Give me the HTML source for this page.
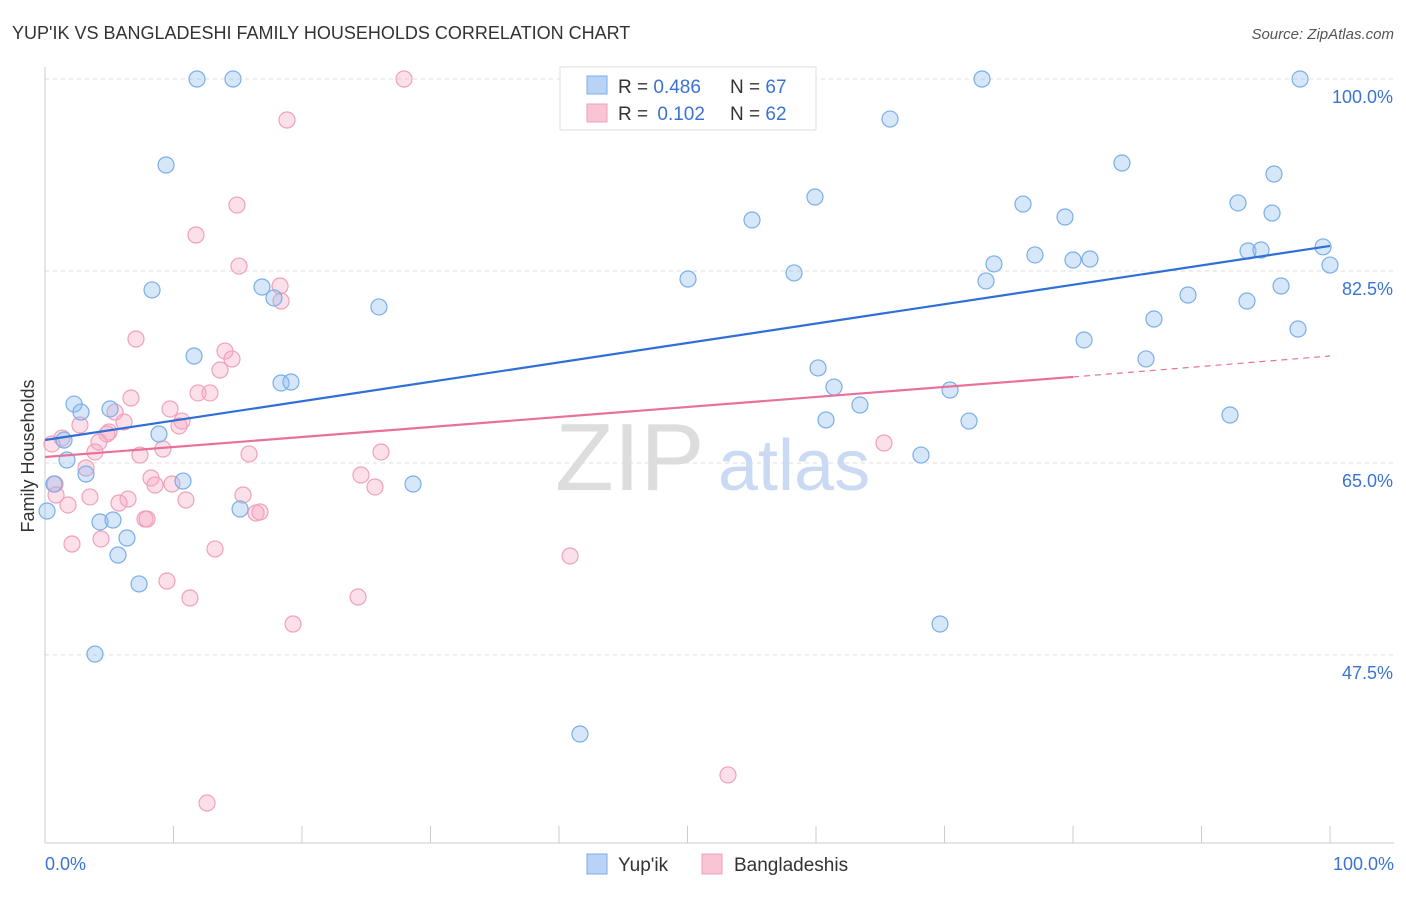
<!DOCTYPE html>
<html><head><meta charset="utf-8"><style>
body{margin:0;background:#fff;font-family:"Liberation Sans",sans-serif}
svg text{font-family:"Liberation Sans",sans-serif}
</style></head><body>
<svg id="chart" width="1406" height="892">
<text x="12" y="39" font-size="18" fill="#333">YUP'IK VS BANGLADESHI FAMILY HOUSEHOLDS CORRELATION CHART</text>
<text x="1394" y="39" font-size="15" fill="#555" text-anchor="end" font-style="italic">Source: ZipAtlas.com</text>
<g id="grid"></g>
<g><text x="555" y="490" font-size="96" fill="#ddd" font-family="Liberation Serif">ZIP</text><text x="718" y="490" font-size="72" fill="#c9daf2">atlas</text></g>
<g id="marks"></g>
<text transform="translate(34,456) rotate(-90)" font-size="18" fill="#333" text-anchor="middle">Family Households</text>
<text x="45" y="870" font-size="18" fill="#3b73d4">0.0%</text>
<text x="1394" y="870" font-size="18" fill="#3b73d4" text-anchor="end">100.0%</text>
<g>
<rect x="560" y="67" width="256" height="63" fill="#fff" stroke="#ddd"/>
<rect x="587" y="76" width="20" height="18" fill="#b8d3f5" stroke="#7aaee8"/>
<rect x="587" y="104" width="20" height="18" fill="#f9c5d5" stroke="#f0a0bb"/>
<text x="618" y="93" font-size="19" fill="#333">R = <tspan fill="#3b73d4">0.486</tspan><tspan x="730">N = </tspan><tspan fill="#3b73d4">67</tspan></text>
<text x="618" y="120" font-size="19" fill="#333">R = <tspan fill="#3b73d4" dx="4">0.102</tspan><tspan x="730">N = </tspan><tspan fill="#3b73d4">62</tspan></text>
</g>
<g>
<rect x="587" y="854" width="20" height="20" fill="#b8d3f5" stroke="#7aaee8"/>
<text x="618" y="871" font-size="19" fill="#333">Yup'ik</text>
<rect x="702" y="854" width="20" height="20" fill="#f9c5d5" stroke="#f0a0bb"/>
<text x="734" y="871" font-size="19" fill="#333">Bangladeshis</text>
</g>
</svg>
<script>
const yTicks=[100,82.5,65,47.5];
const yTickLabels=["100.0%","82.5%","65.0%","47.5%"];
const xTicks=[0,10,20,30,40,50,60,70,80,90,100];
const yupikX=[11.83,14.63,72.92,97.67,65.76,9.42,83.81,95.64,59.92,76.11,92.84,95.49,79.38,55.02,99.46,93.62,94.63,73.85,80,81.32,77.04,100,50.04,58.29,73.23,8.33,16.89,17.82,25.99,88.95,96.19,93.54,86.3,97.51,80.86,85.68,11.6,60.16,18.37,19.14,61.4,70.43,2.26,5.06,2.8,63.42,92.22,60.78,71.91,8.87,1.48,1.71,68.17,3.19,10.74,28.64,0.7,0.16,15.18,4.28,5.29,6.38,5.68,7.32,69.65,3.89,41.63];
const yupikY=[100,100,100,100,96.35,92.16,92.34,91.34,89.24,88.6,88.7,87.78,87.42,87.15,84.69,84.32,84.41,83.14,83.5,83.59,83.96,83.04,81.77,82.32,81.59,80.77,81.04,80.04,79.22,80.31,81.13,79.76,78.12,77.21,76.21,74.48,74.75,73.66,72.29,72.38,71.92,71.65,70.37,69.92,69.64,70.28,69.37,68.92,68.82,67.64,67.09,65.27,65.72,63.99,63.35,63.08,63.08,60.62,60.8,59.62,59.8,58.16,56.61,53.97,50.32,47.58,40.29];
const bangX=[27.94,18.83,14.94,11.75,15.1,18.29,18.37,7.08,14.01,14.55,13.62,11.91,12.84,6.69,9.73,5.45,10.66,10.43,6.15,2.72,4.98,4.82,1.32,0.54,4.2,9.18,3.89,15.88,26.15,7.39,3.19,8.25,24.59,9.88,8.56,25.68,0.78,3.5,15.41,10.97,6.46,5.76,1.79,16.42,16.73,7.78,7.94,4.36,2.1,13.23,40.86,9.49,11.28,24.36,19.3,53.15,12.61,65.29,0.86];
const bangY=[100,96.26,88.51,85.78,82.95,81.13,79.76,76.3,75.2,74.48,73.47,71.38,71.38,70.92,69.92,69.64,68.82,68.37,68.73,68.46,67.82,67.64,67.27,66.73,66.91,66.27,66,65.82,66,65.72,64.54,63.63,63.9,63.08,62.99,62.81,63.08,61.9,62.08,61.62,61.71,61.35,61.17,60.44,60.53,59.89,59.89,58.07,57.61,57.16,56.52,54.24,52.69,52.78,50.32,36.56,34,66.82,62.08];
const yupikFit=[67.09,84.78];
const bangFit=[65.54,72.84,74.75];
const NS='http://www.w3.org/2000/svg';
const X0=45,X1=1330,YTOP=79,YPX=10.97;
function sx(v){return X0+(X1-X0)*v/100;}
function sy(v){return YTOP+(100-v)*YPX;}
function mk(tag,attrs,parent){const e=document.createElementNS(NS,tag);for(const k in attrs)e.setAttribute(k,attrs[k]);parent.appendChild(e);return e;}
const grid=document.getElementById('grid');
yTicks.forEach((t,i)=>{
 const l=mk('line',{x1:45,x2:1394,y1:sy(t),y2:sy(t),stroke:'#ddd','stroke-dasharray':'4,4'},grid);
 
 
 const tx=mk('text',{x:1393,y:sy(t)+24,'font-size':18,fill:'#3b73d4','text-anchor':'end'},grid);
 tx.textContent=yTickLabels[i];
 
 
});
const ax=mk('line',{x1:45,x2:1394,y1:843,y2:843,stroke:'#ccc'},grid);


const ay=mk('line',{x1:45,x2:45,y1:67,y2:843,stroke:'#ccc'},grid);


xTicks.forEach(t=>{
 const l=mk('line',{x1:sx(t),x2:sx(t),y1:826,y2:843,stroke:'#ccc'},grid);
 
 
});
const marks=document.getElementById('marks');
bangX.forEach((x,i)=>{
 const c=mk('circle',{cx:sx(x),cy:sy(bangY[i]),r:8,fill:'rgba(245,165,192,0.35)',stroke:'#f0a0bb','stroke-width':1.2},marks);
 
 
});
yupikX.forEach((x,i)=>{
 const c=mk('circle',{cx:sx(x),cy:sy(yupikY[i]),r:8,fill:'rgba(140,185,240,0.35)',stroke:'#7aaee8','stroke-width':1.2},marks);
 
 
});
const bl=mk('line',{x1:sx(0),y1:sy(yupikFit[0]),x2:sx(100),y2:sy(yupikFit[1]),stroke:'#2f6fd6','stroke-width':2.2},marks);


const pl=mk('line',{x1:sx(0),y1:sy(bangFit[0]),x2:sx(80),y2:sy(bangFit[1]),stroke:'#e8709a','stroke-width':2.2},marks);


const pd=mk('line',{x1:sx(80),y1:sy(bangFit[1]),x2:sx(100),y2:sy(bangFit[2]),stroke:'#e8709a','stroke-width':1.2,'stroke-dasharray':'6,5'},marks);


</script>
</body></html>
